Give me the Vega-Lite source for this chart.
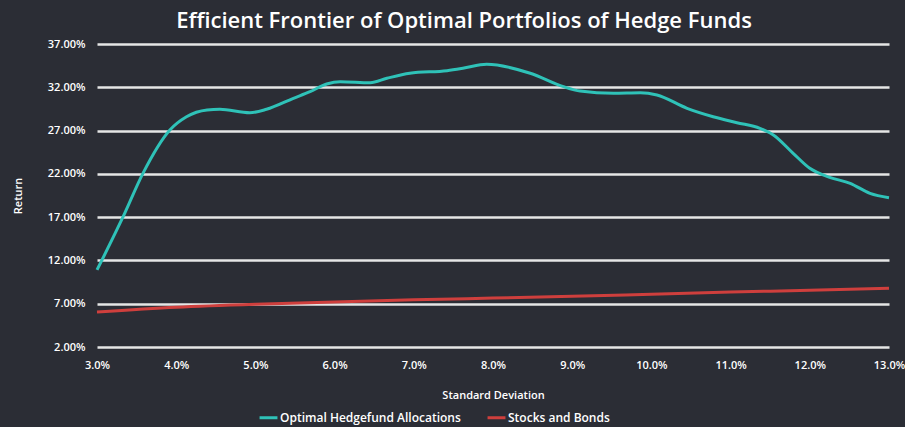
{
  "$schema": "https://vega.github.io/schema/vega-lite/v6.json",
  "width": 792,
  "height": 303,
  "autosize": "none",
  "padding": {"left": 97, "top": 44, "right": 16, "bottom": 80},
  "background": "#2b2d35",
  "title": {
    "text": "Efficient Frontier of Optimal Portfolios of Hedge Funds",
    "color": "#ffffff",
    "font": "Open Sans",
    "fontSize": 22,
    "fontWeight": 600,
    "anchor": "middle",
    "dx": -29,
    "offset": 5
  },
  "config": {
    "view": {"stroke": null},
    "font": "Open Sans"
  },
  "data": {
    "values": [
      {"sd": 3.00, "ret": 10.9, "series": "Optimal Hedgefund Allocations"},
      {"sd": 3.33, "ret": 17.05, "series": "Optimal Hedgefund Allocations"},
      {"sd": 3.58, "ret": 22.06, "series": "Optimal Hedgefund Allocations"},
      {"sd": 3.92, "ret": 27.07, "series": "Optimal Hedgefund Allocations"},
      {"sd": 4.13, "ret": 28.6, "series": "Optimal Hedgefund Allocations"},
      {"sd": 4.39, "ret": 29.38, "series": "Optimal Hedgefund Allocations"},
      {"sd": 4.55, "ret": 29.46, "series": "Optimal Hedgefund Allocations"},
      {"sd": 4.93, "ret": 29.06, "series": "Optimal Hedgefund Allocations"},
      {"sd": 5.14, "ret": 29.46, "series": "Optimal Hedgefund Allocations"},
      {"sd": 5.48, "ret": 30.73, "series": "Optimal Hedgefund Allocations"},
      {"sd": 5.69, "ret": 31.49, "series": "Optimal Hedgefund Allocations"},
      {"sd": 5.90, "ret": 32.38, "series": "Optimal Hedgefund Allocations"},
      {"sd": 6.07, "ret": 32.65, "series": "Optimal Hedgefund Allocations"},
      {"sd": 6.45, "ret": 32.53, "series": "Optimal Hedgefund Allocations"},
      {"sd": 6.66, "ret": 33.04, "series": "Optimal Hedgefund Allocations"},
      {"sd": 6.95, "ret": 33.62, "series": "Optimal Hedgefund Allocations"},
      {"sd": 7.42, "ret": 33.92, "series": "Optimal Hedgefund Allocations"},
      {"sd": 7.62, "ret": 34.19, "series": "Optimal Hedgefund Allocations"},
      {"sd": 7.92, "ret": 34.66, "series": "Optimal Hedgefund Allocations"},
      {"sd": 8.47, "ret": 33.62, "series": "Optimal Hedgefund Allocations"},
      {"sd": 8.89, "ret": 32.07, "series": "Optimal Hedgefund Allocations"},
      {"sd": 9.10, "ret": 31.57, "series": "Optimal Hedgefund Allocations"},
      {"sd": 9.52, "ret": 31.31, "series": "Optimal Hedgefund Allocations"},
      {"sd": 9.86, "ret": 31.37, "series": "Optimal Hedgefund Allocations"},
      {"sd": 10.07, "ret": 31.11, "series": "Optimal Hedgefund Allocations"},
      {"sd": 10.45, "ret": 29.57, "series": "Optimal Hedgefund Allocations"},
      {"sd": 10.78, "ret": 28.6, "series": "Optimal Hedgefund Allocations"},
      {"sd": 11.08, "ret": 27.91, "series": "Optimal Hedgefund Allocations"},
      {"sd": 11.37, "ret": 27.26, "series": "Optimal Hedgefund Allocations"},
      {"sd": 11.54, "ret": 26.49, "series": "Optimal Hedgefund Allocations"},
      {"sd": 11.79, "ret": 24.37, "series": "Optimal Hedgefund Allocations"},
      {"sd": 12.00, "ret": 22.64, "series": "Optimal Hedgefund Allocations"},
      {"sd": 12.25, "ret": 21.6, "series": "Optimal Hedgefund Allocations"},
      {"sd": 12.51, "ret": 20.91, "series": "Optimal Hedgefund Allocations"},
      {"sd": 12.76, "ret": 19.75, "series": "Optimal Hedgefund Allocations"},
      {"sd": 13.00, "ret": 19.25, "series": "Optimal Hedgefund Allocations"},
      {"sd": 3.0, "ret": 6.05, "series": "Stocks and Bonds"},
      {"sd": 4.0, "ret": 6.6, "series": "Stocks and Bonds"},
      {"sd": 5.0, "ret": 6.95, "series": "Stocks and Bonds"},
      {"sd": 6.0, "ret": 7.2, "series": "Stocks and Bonds"},
      {"sd": 7.0, "ret": 7.45, "series": "Stocks and Bonds"},
      {"sd": 8.0, "ret": 7.65, "series": "Stocks and Bonds"},
      {"sd": 9.0, "ret": 7.85, "series": "Stocks and Bonds"},
      {"sd": 10.0, "ret": 8.1, "series": "Stocks and Bonds"},
      {"sd": 11.0, "ret": 8.35, "series": "Stocks and Bonds"},
      {"sd": 12.0, "ret": 8.55, "series": "Stocks and Bonds"},
      {"sd": 13.0, "ret": 8.8, "series": "Stocks and Bonds"}
    ]
  },
  "mark": {"type": "line", "interpolate": "monotone", "strokeWidth": 3},
  "encoding": {
    "x": {
      "field": "sd",
      "type": "quantitative",
      "scale": {"domain": [3, 13], "nice": false, "zero": false},
      "axis": {
        "title": "Standard Deviation",
        "values": [3, 4, 5, 6, 7, 8, 9, 10, 11, 12, 13],
        "labelExpr": "format(datum.value, '.1f') + '%'",
        "grid": false,
        "domain": false,
        "ticks": false,
        "labelColor": "#ffffff",
        "labelFontSize": 11,
        "labelFontWeight": 600,
        "labelPadding": 12,
        "labelFlush": false,
        "titleColor": "#ffffff",
        "titleFontSize": 11,
        "titleFontWeight": 600,
        "titlePadding": 19
      }
    },
    "y": {
      "field": "ret",
      "type": "quantitative",
      "scale": {"domain": [2, 37], "nice": false, "zero": false},
      "axis": {
        "title": "Return",
        "values": [2, 7, 12, 17, 22, 27, 32, 37],
        "labelExpr": "format(datum.value, '.2f') + '%'",
        "grid": true,
        "gridColor": "#e6e6e6",
        "gridWidth": 2.5,
        "gridOpacity": 1,
        "domain": false,
        "ticks": false,
        "labelColor": "#ffffff",
        "labelFontSize": 11,
        "labelFontWeight": 600,
        "labelPadding": 12,
        "titleColor": "#ffffff",
        "titleFontSize": 11,
        "titleFontWeight": 600,
        "titlePadding": 24
      }
    },
    "color": {
      "field": "series",
      "type": "nominal",
      "scale": {
        "domain": ["Optimal Hedgefund Allocations", "Stocks and Bonds"],
        "range": ["#2fc2b8", "#cf3f3d"]
      },
      "legend": {
        "title": null,
        "orient": "none",
        "direction": "horizontal",
        "legendX": 161,
        "legendY": 363,
        "symbolType": "stroke",
        "symbolSize": 320,
        "symbolStrokeWidth": 3,
        "labelColor": "#ffffff",
        "labelFontSize": 12,
        "labelFontWeight": 600,
        "labelOffset": 1,
        "labelLimit": 400,
        "columnPadding": 20,
        "padding": 0
      }
    }
  }
}
